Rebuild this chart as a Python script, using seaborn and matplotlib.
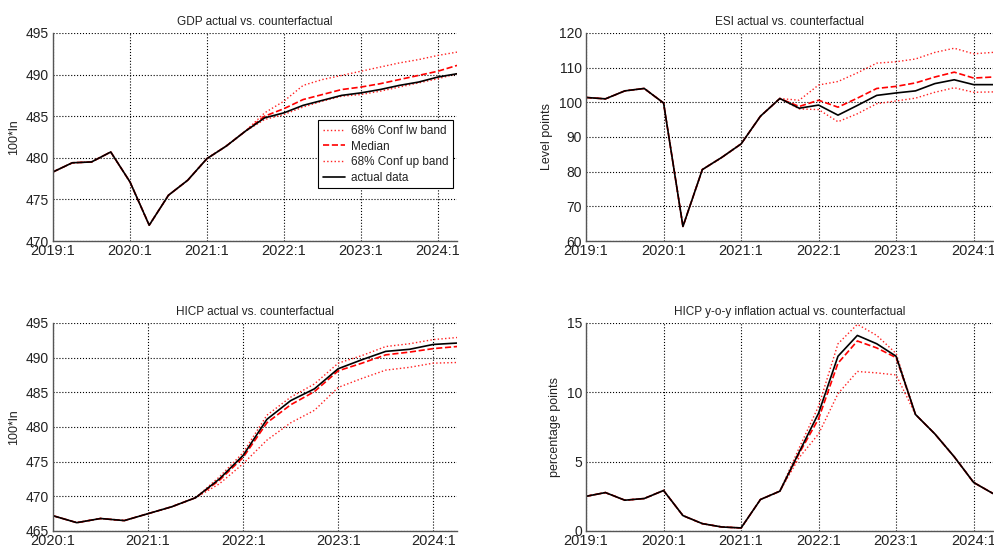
import numpy as np
import pandas as pd
import matplotlib
matplotlib.use('Agg')
import matplotlib.pyplot as plt
import seaborn as sns

# quarterly tick labels
labels_19 = ['2019:1', '2020:1', '2021:1', '2022:1', '2023:1', '2024:1']
labels_20 = ['2020:1', '2021:1', '2022:1', '2023:1', '2024:1']

# GDP, 2019:1 - 2024:2 (100*ln)
gdp_actual = [478.3, 479.4, 479.5, 480.7, 477.1, 471.9, 475.5, 477.3, 479.9, 481.4, 483.2,
              484.8, 485.4, 486.3, 486.9, 487.5, 487.8, 488.2, 488.7, 489.1, 489.7, 490.1]
gdp_median = [478.3, 479.4, 479.5, 480.7, 477.1, 471.9, 475.5, 477.3, 479.9, 481.4, 483.2,
              485.0, 485.9, 487.0, 487.6, 488.2, 488.5, 488.9, 489.4, 489.9, 490.4, 491.1]
gdp_upper = [478.3, 479.4, 479.5, 480.7, 477.1, 471.9, 475.5, 477.3, 479.9, 481.4, 483.2,
             485.4, 486.8, 488.7, 489.4, 489.9, 490.4, 490.9, 491.4, 491.8, 492.3, 492.7]
gdp_lower = [478.3, 479.4, 479.5, 480.7, 477.1, 471.9, 475.5, 477.3, 479.9, 481.4, 483.2,
             484.6, 485.2, 486.1, 486.8, 487.4, 487.6, 488.0, 488.5, 489.0, 489.5, 490.1]

# ESI, 2019:1 - 2024:2 (level points)
esi_actual = [101.4, 101.0, 103.3, 104.0, 99.8, 64.2, 80.6, 84.1, 88.0, 96.0, 101.1,
              98.3, 99.2, 96.3, 99.1, 102.0, 102.7, 103.3, 105.4, 106.5, 105.1, 105.1]
esi_median = [101.4, 101.0, 103.3, 104.0, 99.8, 64.2, 80.6, 84.1, 88.0, 96.0, 101.1,
              98.8, 100.6, 98.6, 101.2, 104.0, 104.6, 105.6, 107.3, 108.7, 107.0, 107.3]
esi_upper = [101.4, 101.0, 103.3, 104.0, 99.8, 64.2, 80.6, 84.1, 88.0, 96.0, 101.1,
             100.6, 105.0, 106.0, 108.5, 111.3, 111.7, 112.5, 114.4, 115.6, 114.0, 114.4]
esi_lower = [101.4, 101.0, 103.3, 104.0, 99.8, 64.2, 80.6, 84.1, 88.0, 96.0, 101.1,
             98.1, 97.9, 94.4, 96.7, 99.6, 100.4, 101.2, 102.9, 104.2, 102.9, 103.0]

# HICP, 2020:1 - 2024:2 (100*ln)
hicp_actual = [467.2, 466.2, 466.8, 466.5, 467.5, 468.5, 469.8, 472.5, 475.9,
               481.1, 483.8, 485.5, 488.4, 489.7, 490.9, 491.2, 491.9, 492.1]
hicp_median = [467.2, 466.2, 466.8, 466.5, 467.5, 468.5, 469.8, 472.3, 475.6,
               480.6, 483.2, 485.1, 488.1, 489.2, 490.4, 490.8, 491.3, 491.6]
hicp_upper = [467.2, 466.2, 466.8, 466.5, 467.5, 468.5, 469.8, 472.8, 476.3,
              481.7, 484.3, 486.2, 489.2, 490.3, 491.6, 492.0, 492.6, 492.9]
hicp_lower = [467.2, 466.2, 466.8, 466.5, 467.5, 468.5, 469.8, 471.8, 474.7,
              478.1, 480.6, 482.4, 485.7, 487.0, 488.2, 488.6, 489.2, 489.3]

# HICP y-o-y inflation, 2019:1 - 2024:2 (percentage points)
infl_actual = [2.5, 2.77, 2.22, 2.34, 2.92, 1.11, 0.53, 0.29, 0.22, 2.27, 2.87,
               5.7, 8.5, 12.6, 14.1, 13.5, 12.6, 8.4, 7.0, 5.35, 3.5, 2.7]
infl_median = [2.5, 2.77, 2.22, 2.34, 2.92, 1.11, 0.53, 0.29, 0.22, 2.27, 2.87,
               5.6, 8.1, 12.1, 13.7, 13.2, 12.5, 8.4, 7.0, 5.35, 3.5, 2.7]
infl_upper = [2.5, 2.77, 2.22, 2.34, 2.92, 1.11, 0.53, 0.29, 0.22, 2.27, 2.87,
              6.0, 9.0, 13.5, 14.9, 14.1, 12.8, 8.4, 7.0, 5.35, 3.5, 2.7]
infl_lower = [2.5, 2.77, 2.22, 2.34, 2.92, 1.11, 0.53, 0.29, 0.22, 2.27, 2.87,
              5.3, 7.0, 9.9, 11.5, 11.4, 11.25, 8.4, 7.0, 5.35, 3.5, 2.7]

sns.set_style('white')
plt.rcParams['font.family'] = ['Liberation Sans', 'DejaVu Sans']
plt.rcParams['text.color'] = '#222222'
plt.rcParams['axes.labelcolor'] = '#222222'
plt.rcParams['xtick.color'] = '#222222'
plt.rcParams['ytick.color'] = '#222222'

fig = plt.figure(figsize=(9.95, 5.46), dpi=100)

panels = [
    # position, title, ylabel, data, ylim, yticks, xlabels
    ([0.0533, 0.5586, 0.406, 0.381], 'GDP actual vs. counterfactual', '100*ln',
     (gdp_lower, gdp_median, gdp_upper, gdp_actual), (470, 495), range(470, 496, 5), labels_19),
    ([0.589, 0.5586, 0.409, 0.381], 'ESI actual vs. counterfactual', 'Level points',
     (esi_lower, esi_median, esi_upper, esi_actual), (60, 120), range(60, 121, 10), labels_19),
    ([0.0533, 0.0275, 0.406, 0.381], 'HICP actual vs. counterfactual', '100*ln',
     (hicp_lower, hicp_median, hicp_upper, hicp_actual), (465, 495), range(465, 496, 5), labels_20),
    ([0.589, 0.0275, 0.409, 0.381], 'HICP y-o-y inflation actual vs. counterfactual', 'percentage points',
     (infl_lower, infl_median, infl_upper, infl_actual), (0, 15), range(0, 16, 5), labels_19),
]

for i, (pos, title, ylabel, series, ylim, yticks, xlabels) in enumerate(panels):
    ax = fig.add_axes(pos)
    lower, median, upper, actual = series
    q = np.arange(len(actual))
    sns.lineplot(x=q, y=lower, ax=ax, color='#ff2020', linestyle=':', linewidth=1.0,
                 label='68% Conf lw band')
    sns.lineplot(x=q, y=median, ax=ax, color='red', linestyle='--', linewidth=1.2,
                 label='Median')
    sns.lineplot(x=q, y=upper, ax=ax, color='#ff2020', linestyle=':', linewidth=1.0,
                 label='68% Conf up band')
    sns.lineplot(x=q, y=actual, ax=ax, color='black', linewidth=1.2,
                 label='actual data')

    ax.set_xlim(0, len(actual) - 1)
    ax.set_xticks(np.arange(0, len(actual), 4))
    ax.set_xticklabels(xlabels, fontsize=10.5)
    ax.set_ylim(*ylim)
    ax.set_yticks(list(yticks))
    ax.set_title(title, fontsize=8.5, pad=6)
    ax.set_ylabel(ylabel, fontsize=9, labelpad=4)
    ax.tick_params(axis='y', labelsize=10, direction='in', length=0, pad=3)
    ax.tick_params(axis='x', direction='in', length=0, pad=2)
    ax.grid(True, color='black', linestyle=':', linewidth=0.8)
    for s in ['top', 'right']:
        ax.spines[s].set_visible(False)
    for s in ['left', 'bottom']:
        ax.spines[s].set_color('#555555')
        ax.spines[s].set_linewidth(1.0)

    if i == 0:
        leg = ax.legend(loc='upper left', bbox_to_anchor=(0.656, 0.58), fontsize=8.5,
                        frameon=True, fancybox=False, edgecolor='black',
                        framealpha=1, labelspacing=0.3, handlelength=1.9,
                        handletextpad=0.5, borderpad=0.4, borderaxespad=0)
        leg.get_frame().set_linewidth(0.8)
    else:
        ax.get_legend().remove()

plt.savefig('out.png', dpi=100)
